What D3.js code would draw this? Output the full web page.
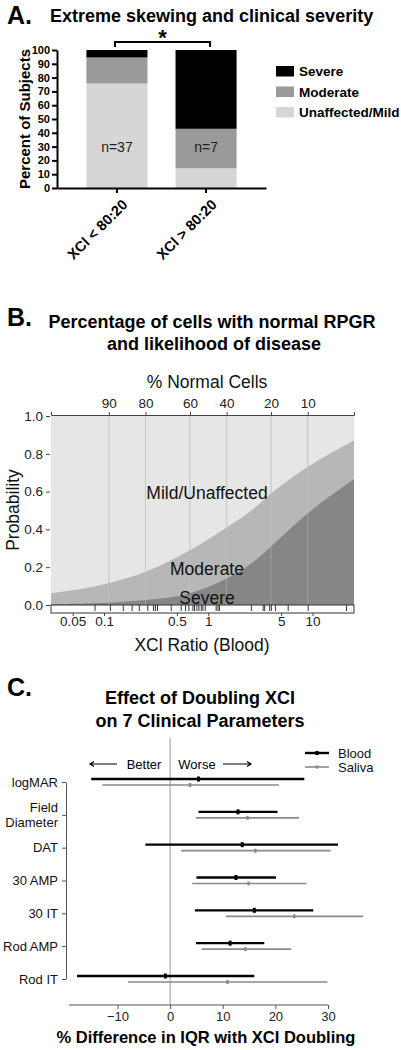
<!DOCTYPE html>
<html><head><meta charset="utf-8">
<script src="https://cdn.jsdelivr.net/npm/d3@7"></script>
<style>
body{margin:0;background:#fff}
svg text{font-family:"Liberation Sans",Arial,sans-serif}
</style></head>
<body><svg id="chart" width="401" height="1050"></svg>
<script>
// ---------- Panel A data ----------
const groupsA = ["XCI < 80:20", "XCI > 80:20"];
const groupN = [37, 7];
const mildA = [75.7, 14.3];
const moderateA = [18.9, 28.6];
const severeA = [5.4, 57.1];
const severityNames = ["Severe", "Moderate", "Unaffected/Mild"];
const severityColors = ["#000000", "#9a9a9a", "#d6d6d6"];
const yTicksA = [0, 10, 20, 30, 40, 50, 60, 70, 80, 90, 100];

// ---------- Panel B data ----------
const ratioGrid = [0.031, 0.111, 0.25, 0.667, 1.5, 2.59, 4, 9, 25];
const probModerateOrWorse = [0.062, 0.115, 0.176, 0.29, 0.41, 0.50, 0.59, 0.73, 0.87];
const probSevere = [0.005, 0.012, 0.026, 0.062, 0.14, 0.22, 0.31, 0.485, 0.667];
const rugRatios = [0.082, 0.115, 0.153, 0.186, 0.218, 0.263, 0.298, 0.311, 0.326, 0.441, 0.55, 0.605,
  0.652, 0.713, 0.738, 0.778, 0.814, 0.857, 0.889, 0.936, 1.19, 1.24, 1.28, 2.59, 3.36, 3.48, 3.88,
  4.03, 4.41, 5.84, 9.09, 21.2];
const ratioTicks = [0.05, 0.1, 0.5, 1, 5, 10];
const normalPctTicks = [90, 80, 60, 40, 20, 10];
const probTicks = [0, 0.2, 0.4, 0.6, 0.8, 1.0];

// ---------- Panel C data ----------
const params = ["logMAR", "Field Diameter", "DAT", "30 AMP", "30 IT", "Rod AMP", "Rod IT"];
const bloodEst = [5.4, 12.9, 13.7, 12.5, 16.0, 11.4, -0.9];
const bloodLo = [-15.0, 5.4, -4.7, 5.0, 4.7, 4.9, -17.7];
const bloodHi = [25.5, 20.4, 31.9, 20.1, 27.2, 17.9, 16.0];
const salivaEst = [3.8, 14.7, 16.2, 14.9, 23.6, 14.3, 10.9];
const salivaLo = [-12.9, 4.9, 2.1, 4.2, 10.6, 6.0, -8.0];
const salivaHi = [20.7, 24.5, 30.5, 25.9, 36.7, 23.0, 29.9];
const xTicksC = [-10, 0, 10, 20, 30];

const svg = d3.select("#chart");
const F = '"Liberation Sans",Arial,sans-serif';

// ================= PANEL A =================
const gA = svg.append("g");
gA.append("text").attr("x", 7).attr("y", 24).attr("font-size", 25).attr("font-weight", "bold").text("A.");
gA.append("text").attr("x", 50).attr("y", 22).attr("font-size", 18).attr("font-weight", "bold")
  .text("Extreme skewing and clinical severity");

const xA = d3.scaleBand().domain(groupsA).range([57, 266]).paddingInner(0.315).paddingOuter(0.33);
const yA = d3.scaleLinear().domain([0, 100]).range([188, 50]);

const stackRows = groupsA.map((g, i) => ({ g, mild: mildA[i], moderate: moderateA[i], severe: severeA[i] }));
const stack = d3.stack().keys(["mild", "moderate", "severe"])(stackRows);
const keyColor = { mild: severityColors[2], moderate: severityColors[1], severe: severityColors[0] };
stack.forEach(layer => {
  gA.selectAll(null).data(layer).enter().append("rect")
    .attr("x", d => xA(d.data.g))
    .attr("width", xA.bandwidth())
    .attr("y", d => yA(d[1]))
    .attr("height", d => yA(d[0]) - yA(d[1]))
    .attr("fill", keyColor[layer.key]);
});
// n labels
gA.selectAll(null).data(groupsA).enter().append("text")
  .attr("x", d => xA(d) + xA.bandwidth() / 2).attr("y", 152)
  .attr("text-anchor", "middle").attr("font-size", 14).attr("fill", "#222")
  .text((d, i) => "n=" + groupN[i]);

// y axis
const axA = gA.append("g").attr("transform", "translate(57,0)")
  .call(d3.axisLeft(yA).tickValues(yTicksA).tickSize(5).tickSizeOuter(0));
axA.select(".domain").attr("stroke-width", 2);
axA.selectAll(".tick line").attr("stroke-width", 2);
axA.selectAll("text").attr("font-size", 11).attr("font-weight", "bold").attr("font-family", F).attr("dx", 1);
// x axis
const axAx = gA.append("g").attr("transform", "translate(0,188)")
  .call(d3.axisBottom(xA).tickSize(5).tickSizeOuter(0));
axAx.select(".domain").attr("stroke-width", 2);
axAx.selectAll(".tick line").attr("stroke-width", 2);
axAx.selectAll("text").attr("font-size", 14.5).attr("font-weight", "bold").attr("font-family", F)
  .attr("text-anchor", "end").attr("transform", "translate(8,14) rotate(-45)").attr("dy", "0.35em").attr("y", 0).attr("x", 0)
  .text(d => d.replace("XCI", "XCl"));

gA.append("text").attr("transform", "translate(30,119) rotate(-90)").attr("text-anchor", "middle")
  .attr("font-size", 15).attr("font-weight", "bold").text("Percent of Subjects");

// significance bracket
const bx1 = xA(groupsA[0]) + xA.bandwidth() / 2 - 2, bx2 = xA(groupsA[1]) + xA.bandwidth() / 2 + 4;
gA.append("path").attr("d", `M${bx1},47V42H${bx2}V47`).attr("fill", "none").attr("stroke", "#000").attr("stroke-width", 2);
gA.append("text").attr("x", (bx1 + bx2) / 2).attr("y", 45).attr("text-anchor", "middle")
  .attr("font-size", 22).attr("font-weight", "bold").text("*");

// legend
severityNames.forEach((n, i) => {
  gA.append("rect").attr("x", 276).attr("y", 66 + i * 20.5).attr("width", 18).attr("height", 10.5).attr("fill", severityColors[i]);
  gA.append("text").attr("x", 299).attr("y", 76 + i * 20.5).attr("font-size", 13.5).attr("font-weight", "bold").text(n);
});

// ================= PANEL B =================
const gB = svg.append("g");
gB.append("text").attr("x", 7).attr("y", 326).attr("font-size", 25).attr("font-weight", "bold").text("B.");
gB.append("text").attr("x", 212).attr("y", 328).attr("text-anchor", "middle").attr("font-size", 18).attr("font-weight", "bold")
  .text("Percentage of cells with normal RPGR");
gB.append("text").attr("x", 214).attr("y", 350).attr("text-anchor", "middle").attr("font-size", 18).attr("font-weight", "bold")
  .text("and likelihood of disease");

const xB = d3.scaleLog().domain([0.031, 25]).range([51, 354]);
const yB = d3.scaleLinear().domain([0, 1]).range([605, 416]);

gB.append("rect").attr("x", 51).attr("y", 416).attr("width", 303).attr("height", 189).attr("fill", "#e6e6e6");
// grid lines
gB.selectAll(null).data(normalPctTicks).enter().append("line")
  .attr("x1", d => xB((100 - d) / d)).attr("x2", d => xB((100 - d) / d))
  .attr("y1", 416).attr("y2", 605).attr("stroke", "#c4c4c4").attr("stroke-width", 1);

const ptsB = ratioGrid.map((r, i) => ({ r, up: probModerateOrWorse[i], sev: probSevere[i] }));
const areaMod = d3.area().x(d => xB(d.r)).y0(605).y1(d => yB(d.up)).curve(d3.curveMonotoneX);
const areaSev = d3.area().x(d => xB(d.r)).y0(605).y1(d => yB(d.sev)).curve(d3.curveMonotoneX);
gB.append("path").datum(ptsB).attr("d", areaMod).attr("fill", "#b3b3b3").attr("fill-opacity", 0.93);
gB.append("path").datum(ptsB).attr("d", areaSev).attr("fill", "#828282").attr("fill-opacity", 0.93);
gB.selectAll(null).data(normalPctTicks).enter().append("line")
  .attr("x1", d => xB((100 - d) / d)).attr("x2", d => xB((100 - d) / d))
  .attr("y1", 416).attr("y2", 605).attr("stroke", "#d0d0d0").attr("stroke-width", 1).attr("stroke-opacity", 0.35);

gB.append("text").attr("x", 207).attr("y", 499).attr("text-anchor", "middle").attr("font-size", 17.5).attr("fill", "#111").text("Mild/Unaffected");
gB.append("text").attr("x", 207).attr("y", 575).attr("text-anchor", "middle").attr("font-size", 17.5).attr("fill", "#111").text("Moderate");
gB.append("text").attr("x", 207).attr("y", 604).attr("text-anchor", "middle").attr("font-size", 17.5).attr("fill", "#111").text("Severe");

// top axis (% normal cells)
const topAx = gB.append("g").attr("transform", "translate(0,415)")
  .call(d3.axisTop(xB).tickValues(normalPctTicks.map(p => (100 - p) / p)).tickSize(3).tickSizeOuter(3)
    .tickFormat((d, i) => normalPctTicks[i]));
topAx.select(".domain").attr("stroke", "#444");
topAx.selectAll(".tick line").attr("stroke", "#444");
topAx.selectAll("text").attr("font-size", 13.5).attr("font-family", F).attr("fill", "#222").attr("dy", "-0.05em");
gB.append("text").attr("x", 207).attr("y", 388).attr("text-anchor", "middle").attr("font-size", 17.5).attr("fill", "#111").text("% Normal Cells");

// left axis
const leftB = gB.append("g").attr("transform", "translate(50,0)")
  .call(d3.axisLeft(yB).tickValues(probTicks).tickSize(4).tickFormat(d3.format(".1f")));
leftB.select(".domain").remove();
leftB.selectAll(".tick line").attr("stroke", "#444");
leftB.selectAll("text").attr("font-size", 13.5).attr("font-family", F).attr("fill", "#222");
gB.append("text").attr("transform", "translate(19,510) rotate(-90)").attr("text-anchor", "middle")
  .attr("font-size", 17.5).attr("fill", "#111").text("Probability");

// rug box
gB.append("rect").attr("x", 51).attr("y", 605).attr("width", 303).attr("height", 8)
  .attr("fill", "#fff").attr("stroke", "#333").attr("stroke-width", 1);
gB.selectAll(null).data(rugRatios).enter().append("line")
  .attr("x1", d => xB(d)).attr("x2", d => xB(d)).attr("y1", 605).attr("y2", 611)
  .attr("stroke", "#333").attr("stroke-width", 1);
// bottom axis
const botB = gB.append("g").attr("transform", "translate(0,613)")
  .call(d3.axisBottom(xB).tickValues(ratioTicks).tickSize(3).tickFormat(d => String(d)));
botB.select(".domain").remove();
botB.selectAll(".tick line").attr("stroke", "#444");
botB.selectAll("text").attr("font-size", 13.5).attr("font-family", F).attr("fill", "#222").attr("dy", "0.5em");
gB.append("text").attr("x", 202).attr("y", 651).attr("text-anchor", "middle").attr("font-size", 17.5).attr("fill", "#111").text("XCl Ratio (Blood)");

// ================= PANEL C =================
const gC = svg.append("g");
gC.append("text").attr("x", 7).attr("y", 696).attr("font-size", 25).attr("font-weight", "bold").text("C.");
gC.append("text").attr("x", 200).attr("y", 704).attr("text-anchor", "middle").attr("font-size", 18).attr("font-weight", "bold")
  .text("Effect of Doubling XCI");
gC.append("text").attr("x", 200).attr("y", 727).attr("text-anchor", "middle").attr("font-size", 18).attr("font-weight", "bold")
  .text("on 7 Clinical Parameters");

const xC = d3.scaleLinear().domain([-10, 30]).range([117.5, 328]);
const yC = d3.scalePoint().domain(params).range([782, 979]);

gC.append("line").attr("x1", xC(0)).attr("x2", xC(0)).attr("y1", 738).attr("y2", 1005).attr("stroke", "#999").attr("stroke-width", 1);

// saliva
gC.selectAll(null).data(params).enter().append("line")
  .attr("x1", (d, i) => xC(salivaLo[i])).attr("x2", (d, i) => xC(salivaHi[i]))
  .attr("y1", d => yC(d) + 3).attr("y2", d => yC(d) + 3)
  .attr("stroke", "#8a8a8a").attr("stroke-width", 1.6);
gC.selectAll(null).data(params).enter().append("rect")
  .attr("x", (d, i) => xC(salivaEst[i]) - 1.2).attr("y", d => yC(d) + 1)
  .attr("width", 2.4).attr("height", 4).attr("fill", "#8a8a8a");
// blood
gC.selectAll(null).data(params).enter().append("line")
  .attr("x1", (d, i) => xC(bloodLo[i])).attr("x2", (d, i) => xC(bloodHi[i]))
  .attr("y1", d => yC(d) - 3).attr("y2", d => yC(d) - 3)
  .attr("stroke", "#000").attr("stroke-width", 2.4);
gC.selectAll(null).data(params).enter().append("rect")
  .attr("x", (d, i) => xC(bloodEst[i]) - 1.5).attr("y", d => yC(d) - 5.5)
  .attr("width", 3).attr("height", 5).attr("fill", "#000");

// left axis
const leftC = gC.append("g").attr("transform", "translate(66,0)")
  .call(d3.axisLeft(yC).tickSize(4).tickSizeOuter(0).tickFormat(""));
leftC.selectAll("path,line").attr("stroke", "#555");
params.forEach(p => {
  const lines = p === "Field Diameter" ? ["Field", "Diameter"] : [p];
  const t = gC.append("text").attr("text-anchor", "end").attr("font-size", 13).attr("fill", "#111");
  lines.forEach((l, j) => {
    t.append("tspan").attr("x", 58).attr("y", yC(p) + 4.5 + (lines.length === 2 ? (j === 0 ? -7 : 8) : 0)).text(l);
  });
});

// bottom axis
const botC = gC.append("g").attr("transform", "translate(0,1005)")
  .call(d3.axisBottom(xC).tickValues(xTicksC).tickSize(4).tickSizeOuter(0));
botC.select(".domain").attr("d", `M${xC(-19.2)},0H${xC(30)}`).attr("stroke", "#555");
botC.selectAll(".tick line").attr("stroke", "#555");
botC.selectAll("text").attr("font-size", 13).attr("font-family", F).attr("fill", "#222");
gC.append("text").attr("x", 206).attr("y", 1043).attr("text-anchor", "middle").attr("font-size", 16.5).attr("font-weight", "bold")
  .text("% Difference in IQR with XCI Doubling");

// better/worse annotation
const arrowG = gC.append("g").attr("stroke", "#000").attr("stroke-width", 1.2).attr("fill", "none");
arrowG.append("path").attr("d", "M90,764H117M94,761.5L90,764L94,766.5");
arrowG.append("path").attr("d", "M223,764H251M247,761.5L251,764L247,766.5");
gC.append("text").attr("x", 144).attr("y", 769).attr("text-anchor", "middle").attr("font-size", 13).text("Better");
gC.append("text").attr("x", 197).attr("y", 769).attr("text-anchor", "middle").attr("font-size", 13).text("Worse");

// legend
const legC = [{ n: "Blood", c: "#000", w: 2.4 }, { n: "Saliva", c: "#8a8a8a", w: 1.6 }];
legC.forEach((d, i) => {
  const y = 753 + i * 14;
  gC.append("line").attr("x1", 305).attr("x2", 329).attr("y1", y).attr("y2", y).attr("stroke", d.c).attr("stroke-width", d.w);
  gC.append("circle").attr("cx", 317).attr("cy", y).attr("r", i === 0 ? 2.2 : 1.8).attr("fill", d.c);
  gC.append("text").attr("x", 338).attr("y", y + 4.5).attr("font-size", 13).attr("fill", "#111").text(d.n);
});
</script>
</body></html>
